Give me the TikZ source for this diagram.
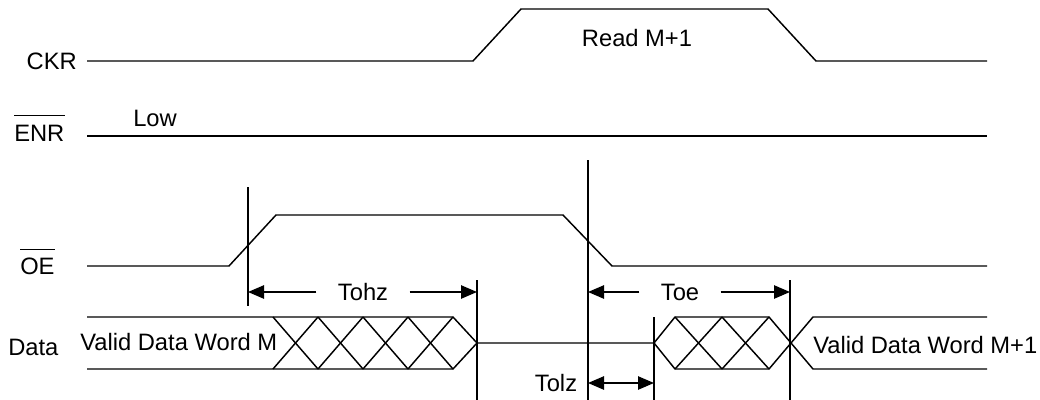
\documentclass[tikz,border=0pt]{standalone}
\usepackage{fontspec}
\setmainfont{Liberation Sans}
\usetikzlibrary{arrows.meta,positioning}
\tikzset{
  wave/.style={line width=1.1pt,line join=miter},
  marker/.style={line width=1.1pt},
  dimarr/.style={line width=1.1pt,-{Triangle[length=12pt,width=10pt]}},
  dimboth/.style={line width=1.1pt,{Triangle[length=12pt,width=10pt]}-{Triangle[length=12pt,width=10pt]}},
  lbl/.style={inner sep=0pt},
  dimlbl/.style={inner ysep=0pt,inner xsep=16pt},
  bar/.style={line width=.8pt},
}

\begin{document}
\begin{tikzpicture}[font=\fontsize{17.8}{20}\selectfont,x=.75pt,y=-.75pt]
      \useasboundingbox (0,0) rectangle (1040,400);
      % signal names
      \node[lbl,anchor=east] (ckr) at (77,61) {CKR};
      \node[lbl,anchor=west] (enr) at (14,133) {ENR};
      \node[lbl,anchor=west] (oe) at (20,266) {OE};
      \node[lbl,anchor=west] (data) at (8,347) {Data};
      \draw[bar] ([yshift=6.75pt]enr.north west) -- ([yshift=6.75pt]enr.north east);
      \draw[bar] ([yshift=6pt]oe.north west) -- ([yshift=6pt]oe.north east);
      % waveforms
      \draw[wave] (87,61) -- (473,61) -- (521,9) -- (768,9) -- (816,61) -- (987,61);
      \node[lbl] (read) at (637,38) {Read M+1};
      \draw[wave] (87,136) -- (987,136);
      \node[lbl,anchor=west] (low) at (133,118) {Low};
      \draw[wave] (87,266) -- (229,266) -- (276,215) -- (563,215) -- (612,266) -- (987,266);
      % data bus
      \draw[wave] (87,317) -- (453,317) -- (477,343) -- (453,369) -- (87,369);
      \foreach \a in {273,318,363,408}{
        \draw[wave] (\a,317) -- (\a+45,369);
        \draw[wave] (\a,369) -- (\a+45,317);
      }
      \draw[wave] (477,343) -- (654,343) -- (675,317) -- (769,317) -- (813,369) -- (987,369);
      \draw[wave] (654,343) -- (675,369) -- (769,369) -- (813,317) -- (987,317);
      \foreach \a in {675,722}{
        \draw[wave] (\a,317) -- (\a+47,369);
        \draw[wave] (\a,369) -- (\a+47,317);
      }
      \node[lbl,anchor=west] (wordm) at (80,342) {Valid Data Word M};
      \node[lbl,anchor=west] (wordn) at (813,345) {Valid Data Word M+1};
      % timing markers
      \coordinate (m1t) at (248,187); \coordinate (m1b) at (248,306);
      \coordinate (m2t) at (588,160); \coordinate (m2b) at (588,400);
      \coordinate (m3t) at (477,280); \coordinate (m3b) at (477,400);
      \coordinate (m4t) at (654,317); \coordinate (m4b) at (654,400);
      \coordinate (m5t) at (790,280); \coordinate (m5b) at (790,400);
      \foreach \m in {m1,m2,m3,m4,m5}{\draw[marker] (\m t) -- (\m b);}
      % timing labels
      \node[dimlbl] (tohz) at (363,292) {Tohz};
      \draw[dimarr] (tohz.west) -- (tohz.west -| m1t);
      \draw[dimarr] (tohz.east) -- (tohz.east -| m3t);
      \node[dimlbl] (toe) at (680,292) {Toe};
      \draw[dimarr] (toe.west) -- (toe.west -| m2t);
      \draw[dimarr] (toe.east) -- (toe.east -| m5t);
      \coordinate (tolzr) at (654,383);
      \draw[dimboth] (tolzr -| m2t) -- (tolzr);
      \node[lbl] (tolz) at (556,383) {Tolz};
    \end{tikzpicture}
\end{document}
